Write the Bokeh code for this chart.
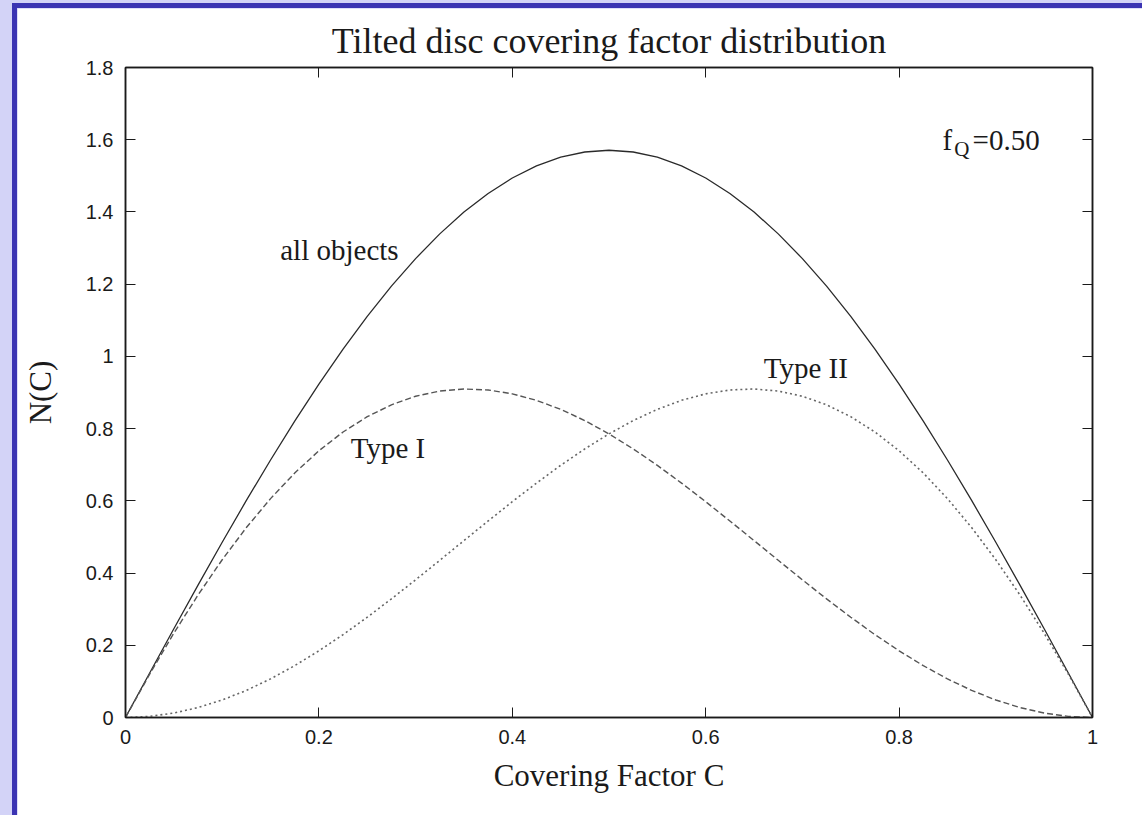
from bokeh.plotting import figure
from bokeh.models import (LinearAxis, Range1d, FixedTicker, Label,
                          GlobalInlineStyleSheet, ColumnDataSource)
from bokeh.embed import file_html
from bokeh.resources import INLINE

# ---------------- data ----------------
cover = [0.0, 0.025, 0.05, 0.075, 0.1, 0.125, 0.15, 0.175, 0.2, 0.225,
         0.25, 0.275, 0.3, 0.325, 0.35, 0.375, 0.4, 0.425, 0.45, 0.475,
         0.5, 0.525, 0.55, 0.575, 0.6, 0.625, 0.65, 0.675, 0.7, 0.725,
         0.75, 0.775, 0.8, 0.825, 0.85, 0.875, 0.9, 0.925, 0.95, 0.975, 1.0]

all_objects = [0.0, 0.1232, 0.2457, 0.3667, 0.4854, 0.6011, 0.7131, 0.8207,
               0.9233, 1.0202, 1.1107, 1.1944, 1.2708, 1.3393, 1.3996, 1.4512,
               1.4939, 1.5274, 1.5515, 1.5660, 1.5708, 1.5660, 1.5515, 1.5274,
               1.4939, 1.4512, 1.3996, 1.3393, 1.2708, 1.1944, 1.1107, 1.0202,
               0.9233, 0.8207, 0.7131, 0.6011, 0.4854, 0.3667, 0.2457, 0.1232,
               0.0]

type_1 = [0.0, 0.1201, 0.2334, 0.3392, 0.4369, 0.5260, 0.6061, 0.6771,
          0.7386, 0.7907, 0.8330, 0.8659, 0.8896, 0.9040, 0.9097, 0.9070,
          0.8963, 0.8783, 0.8533, 0.8222, 0.7854, 0.7439, 0.6982, 0.6491,
          0.5976, 0.5442, 0.4899, 0.4353, 0.3812, 0.3285, 0.2777, 0.2295,
          0.1847, 0.1436, 0.1070, 0.0751, 0.0485, 0.0275, 0.0123, 0.0031,
          0.0]

type_2 = [0.0, 0.0031, 0.0123, 0.0275, 0.0485, 0.0751, 0.1070, 0.1436,
          0.1847, 0.2295, 0.2777, 0.3285, 0.3812, 0.4353, 0.4899, 0.5442,
          0.5976, 0.6491, 0.6982, 0.7439, 0.7854, 0.8222, 0.8533, 0.8783,
          0.8963, 0.9070, 0.9097, 0.9040, 0.8896, 0.8659, 0.8330, 0.7907,
          0.7386, 0.6771, 0.6061, 0.5260, 0.4369, 0.3392, 0.2334, 0.1201,
          0.0]

x_ticks = [0, 0.2, 0.4, 0.6, 0.8, 1.0]
x_tick_labels = ["0", "0.2", "0.4", "0.6", "0.8", "1"]
y_ticks = [0, 0.2, 0.4, 0.6, 0.8, 1.0, 1.2, 1.4, 1.6, 1.8]
y_tick_labels = ["0", "0.2", "0.4", "0.6", "0.8", "1", "1.2", "1.4", "1.6", "1.8"]

title_text = "Tilted disc covering factor distribution"
x_label = "Covering Factor C"
y_label = "N(C)"

# ---------------- figure ----------------
SERIF = "Liberation Serif"
SANS = "Liberation Sans"
INK = "#1a1a1a"

css = """
html, body { margin: 0; padding: 0; }
body {
  padding: 8px 0 0 17px;
  background:
    linear-gradient(#3b34b3, #3b34b3) 12px 3px / 5px 2000px no-repeat,
    linear-gradient(#3b34b3, #3b34b3) 12px 3px / 3000px 5px no-repeat,
    #d3d3f7;
}
"""

p = figure(width=1125, height=807,
           x_range=Range1d(0, 1), y_range=Range1d(0, 1.8),
           output_backend="svg", toolbar_location=None,
           min_border_left=108, min_border_right=50,
           min_border_top=59, min_border_bottom=98,
           background_fill_color="white", border_fill_color="white",
           title=title_text)
p.stylesheets = [GlobalInlineStyleSheet(css=css)]

p.grid.visible = False
p.outline_line_color = INK
p.outline_line_width = 1.5

p.title.text_font = SERIF
p.title.text_font_size = "36px"
p.title.text_font_style = "normal"
p.title.text_color = INK
p.title.align = "center"
p.title.standoff = 13


def style_axis(ax, ticks, labels, show_labels=True):
    ax.ticker = FixedTicker(ticks=ticks)
    ax.major_tick_in = 10
    ax.major_tick_out = 0
    ax.major_tick_line_color = INK
    ax.major_tick_line_width = 1
    ax.minor_tick_line_color = None
    ax.axis_line_color = INK
    ax.axis_line_width = 1.5
    if show_labels:
        ax.major_label_overrides = {t: l for t, l in zip(ticks, labels)}
        ax.major_label_text_font = SANS
        ax.major_label_text_font_size = "20px"
        ax.major_label_text_color = INK
        ax.major_label_standoff = 12
    else:
        # mirror ticks only: labels are not drawn at all
        ax.major_label_text_font_size = "1px"
        ax.major_label_text_color = None
        ax.major_label_standoff = 0


xa = p.xaxis[0]
ya = p.yaxis[0]
style_axis(xa, x_ticks, x_tick_labels)
style_axis(ya, y_ticks, y_tick_labels)
xa.axis_label = x_label
ya.axis_label = y_label
for ax in (xa, ya):
    ax.axis_label_text_font = SERIF
    ax.axis_label_text_font_size = "31px"
    ax.axis_label_text_font_style = "normal"
    ax.axis_label_text_color = INK
xa.axis_label_standoff = 11
ya.axis_label_standoff = 25

top_ax = LinearAxis()
right_ax = LinearAxis()
style_axis(top_ax, x_ticks, x_tick_labels, show_labels=False)
style_axis(right_ax, y_ticks, y_tick_labels, show_labels=False)
p.add_layout(top_ax, "above")
p.add_layout(right_ax, "right")

src = ColumnDataSource(dict(c=cover, a=all_objects, t1=type_1, t2=type_2))
p.line("c", "a", source=src, line_color="#2a2a2a", line_width=1.3)
p.line("c", "t1", source=src, line_color="#555555", line_width=1.4,
       line_dash="6 3")
p.line("c", "t2", source=src, line_color="#666666", line_width=1.6,
       line_dash="2 3")

lab_kw = dict(text_font=SERIF, text_color=INK, text_baseline="alphabetic",
              text_align="left")
p.add_layout(Label(x=0.160, y=1.296, text="all objects",
                   text_font_size="29px", **lab_kw))
p.add_layout(Label(x=0.233, y=0.745, text="Type I",
                   text_font_size="29px", **lab_kw))
p.add_layout(Label(x=0.660, y=0.968, text="Type II",
                   text_font_size="29px", **lab_kw))
p.add_layout(Label(x=0.845, y=1.600, text="f",
                   text_font_size="29px", **lab_kw))
p.add_layout(Label(x=0.857, y=1.573, text="Q",
                   text_font_size="21px", **lab_kw))
p.add_layout(Label(x=0.876, y=1.600, text="=0.50",
                   text_font_size="29px", **lab_kw))

open("out.html", "w").write(file_html(p, INLINE))
